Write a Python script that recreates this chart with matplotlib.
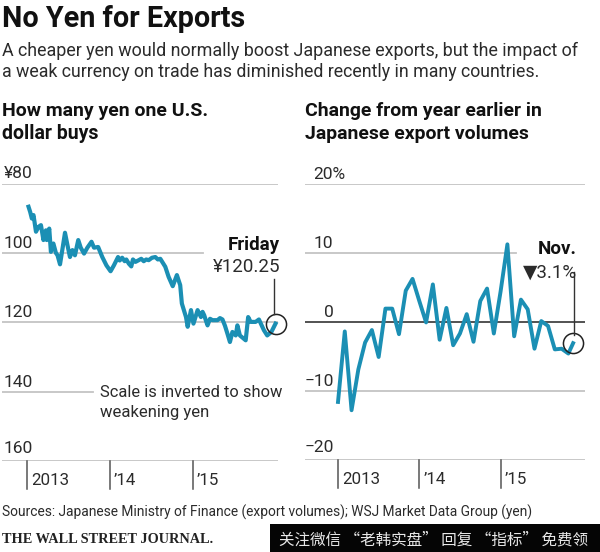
import matplotlib
matplotlib.use("Agg")
import matplotlib.pyplot as plt
from matplotlib.patches import Rectangle

W, H = 600, 552
BLUE = "#1b8fb4"
GRID = "#c4c4c4"
TXT = "#2b2b2b"
FONT = ["Roboto", "DejaVu Sans"]
CJK = ["Noto Sans CJK SC", "DejaVu Sans"]

# yen per dollar
yen_dates = [2013.02, 2013.04, 2013.06, 2013.08, 2013.11, 2013.14, 2013.17, 2013.20, 2013.23, 2013.24,
             2013.27, 2013.29, 2013.32, 2013.35, 2013.37, 2013.40, 2013.43, 2013.46, 2013.49, 2013.52,
             2013.55, 2013.58, 2013.62, 2013.65, 2013.69, 2013.73, 2013.78, 2013.81, 2013.86, 2013.91,
             2013.96, 2014.01, 2014.05, 2014.10, 2014.12, 2014.15, 2014.18, 2014.20, 2014.23, 2014.26,
             2014.28, 2014.31, 2014.35, 2014.38, 2014.41, 2014.44, 2014.47, 2014.51, 2014.55, 2014.58,
             2014.61, 2014.67, 2014.71, 2014.76, 2014.81, 2014.85, 2014.87, 2014.92,
             2014.94, 2014.98, 2015.01, 2015.06, 2015.10, 2015.12, 2015.14, 2015.16, 2015.18, 2015.21,
             2015.24, 2015.30, 2015.33, 2015.36, 2015.39,
             2015.42, 2015.45, 2015.48, 2015.52, 2015.54, 2015.57, 2015.64, 2015.67, 2015.70, 2015.76,
             2015.80, 2015.86, 2015.90, 2015.95, 2016.00]
yen_values = [86.7, 88.2, 90.1, 89.1, 93.9, 92.5, 92.0, 96.3, 93.5, 96.3,
              93.0, 99.7, 97.3, 100.0, 100.7, 103.3, 98.8, 94.2, 97.8, 101.2,
              99.2, 100.7, 96.3, 98.5, 100.2, 98.5, 96.8, 98.5, 98.3, 101.2,
              103.6, 105.3, 103.6, 101.2, 102.2, 101.4, 102.4, 101.9, 103.1, 103.9,
              101.9, 102.6, 102.1, 101.7, 102.4, 101.9, 102.1, 101.4, 101.2, 101.9,
              101.7, 104.0, 106.9, 109.6, 106.4, 109.3, 114.6, 118.5,
              121.3, 116.5, 120.4, 116.5, 118.5, 117.0, 118.0, 119.5, 120.9, 119.0,
              119.4, 119.4, 118.8, 119.2, 121.0,
              123.3, 125.7, 122.8, 123.8, 120.9, 123.8, 125.2, 118.5, 119.9, 119.9,
              119.2, 122.3, 123.8, 122.8, 120.4]

# export volumes, change from a year earlier
export_months = list(range(35)) + [34.7]
export_values = [-11.6, -1.4, -12.8, -6.9, -3.0, -1.2, -5.1, 1.9, 1.9, -1.8, 4.5, 6.2,
                 3.0, -0.1, 5.4, -2.6, 2.0, -3.4, -1.7, 1.1, -2.9, 3.0, 4.8, -1.7,
                 4.4, 11.2, -2.1, 3.2, 1.8, -3.9, 0.1, -0.6, -4.0, -3.9, -4.6, -3.1]

yen_ticks = [80, 100, 120, 140, 160]
yen_labels = ["¥80", "100", "120", "140", "160"]
export_ticks = [20, 10, 0, -10, -20]
export_labels = ["20%", "10", "0", "\u221210", "\u221220"]
year_ticks = [2013, 2014, 2015]
year_labels = ["2013", "\u201914", "\u201915"]


def px_axes(fig, x0, x1, ytop, ybot):
    ax = fig.add_axes([x0 / W, 1 - ybot / H, (x1 - x0) / W, (ybot - ytop) / H])
    ax.axis("off")
    return ax


def ptext(fig, x, y, s, size, width=None, **kw):
    # width = wanted text width in pixels, font size gets scaled to it
    kw.setdefault("color", TXT)
    kw.setdefault("family", FONT)
    kw.setdefault("va", "baseline")
    t = fig.text(x / W, 1 - y / H, s, fontsize=size, **kw)
    if width:
        bb = t.get_window_extent(fig.canvas.get_renderer())
        t.set_fontsize(size * width / bb.width)
    return t


def draw_years(ax, ymin, ymax):
    for yr, lab in zip(year_ticks, year_labels):
        ax.plot([yr, yr], [ymin, ymax], color="#555555", lw=1.1, clip_on=False)
        ax.annotate(lab, (yr, ymin), xytext=(3, -14), textcoords="offset points",
                    fontsize=12.2, color=TXT, family=FONT, va="center", annotation_clip=False)


fig = plt.figure(figsize=(W / 100, H / 100), dpi=100, facecolor="white")

# left panel
ax1 = px_axes(fig, 2, 278, 183.5, 461)
ax1.set_xlim(2012.70, 2016.03)
ax1.set_ylim(160, 80)
for v in yen_ticks:
    xend = 2016.03
    if v == 100:
        xend = 2015.12
    if v == 140:
        xend = 2013.8
    ax1.plot([2012.70, xend], [v, v], color=GRID, lw=1.3, zorder=1)
for v, lab in zip(yen_ticks, yen_labels):
    dy = 5.5 if v == 160 else 3.6
    ax1.annotate(lab, (2012.70, v), xytext=(22, dy), textcoords="offset points", fontsize=12.5,
                 color=TXT, family=FONT, va="baseline", ha="right", annotation_clip=False)
ax1.plot(yen_dates, yen_values, color=BLUE, lw=3.0, solid_joinstyle="round", zorder=3, clip_on=False)
ax1.plot([yen_dates[-1]], [yen_values[-1]], "o", ms=14.5, mfc="none", mec="#222222", mew=1.1,
         clip_on=False, zorder=4)
ax1.plot([2015.98, 2015.98], [107.5, 117.6], color="#333333", lw=1.0, zorder=4)
draw_years(ax1, 160, 168)

# right panel
ax2 = px_axes(fig, 305, 585, 183.5, 460)
ax2.set_xlim(2012.594, 2016.038)
ax2.set_ylim(-20, 20)
for v in export_ticks:
    xend = 2016.038
    if v == 10:
        xend = 2015.19
    col = "#444444" if v == 0 else GRID
    ax2.plot([2012.594, xend], [v, v], color=col, lw=1.3, zorder=1)
for v, lab in zip(export_ticks, export_labels):
    dy = 5.5 if v == -20 else 3.6
    if v == 20:
        ax2.annotate(lab, (2012.594, v), xytext=(6, dy), textcoords="offset points", fontsize=12.5,
                     color=TXT, family=FONT, va="baseline", annotation_clip=False)
    else:
        ax2.annotate(lab, (2012.594, v), xytext=(20.5, dy), textcoords="offset points", fontsize=12.5,
                     color=TXT, family=FONT, va="baseline", ha="right", annotation_clip=False)
export_dates = [2013 + m / 12 for m in export_months]
ax2.plot(export_dates, export_values, color=BLUE, lw=2.8, solid_joinstyle="round", zorder=3, clip_on=False)
ax2.plot([export_dates[-1]], [export_values[-1]], "o", ms=14.5, mfc="none", mec="#222222", mew=1.1,
         clip_on=False, zorder=4)
ax2.plot([2015.9, 2015.9], [7.2, -1.9], color="#333333", lw=1.0, zorder=4)
draw_years(ax2, -20, -24)

# headline and chatter
ptext(fig, 2, 27, "No Yen for Exports", 23, width=243, weight="bold", color="#111111")
ptext(fig, 2, 56, "A cheaper yen would normally boost Japanese exports, but the impact of", 14, width=579)
ptext(fig, 2, 77, "a weak currency on trade has diminished recently in many countries.", 14, width=540)
ptext(fig, 2, 116, "How many yen one U.S.", 14, width=206, weight="bold", color="#111111")
ptext(fig, 2, 139, "dollar buys", 14, width=97, weight="bold", color="#111111")
ptext(fig, 305, 116, "Change from year earlier in", 14, width=238, weight="bold", color="#111111")
ptext(fig, 305, 139, "Japanese export volumes", 14, width=225, weight="bold", color="#111111")

# annotations
ptext(fig, 280, 250, "Friday", 13.5, weight="bold", color="#111111", ha="right")
ptext(fig, 280, 272, "¥120.25", 13.5, ha="right")
ptext(fig, 577, 254, "Nov.", 13.5, weight="bold", color="#111111", ha="right")
ptext(fig, 577, 278, "\u25bc3.1%", 13.5, ha="right")
ptext(fig, 100, 397, "Scale is inverted to show", 12.5, width=182)
ptext(fig, 100, 417, "weakening yen", 12.5, width=109)

# footer
ptext(fig, 2, 517, "Sources: Japanese Ministry of Finance (export volumes); WSJ Market Data Group (yen)", 11.5, width=534)
ptext(fig, 2, 543, "THE WALL STREET JOURNAL.", 11.5, width=210, family=["Liberation Serif", "DejaVu Serif"],
      weight="bold", color="#222222")

# watermark strip
fig.add_artist(Rectangle((270 / W, 0), 330 / W, 28 / H, transform=fig.transFigure,
                         facecolor="#050505", edgecolor="none"))
ptext(fig, 279, 544, "关注微信 \u201c老韩实盘\u201d 回复 \u201c指标\u201d 免费领", 12, width=309, family=CJK, color="#e8e8e8")

fig.savefig("out.png", dpi=100, facecolor="white")
